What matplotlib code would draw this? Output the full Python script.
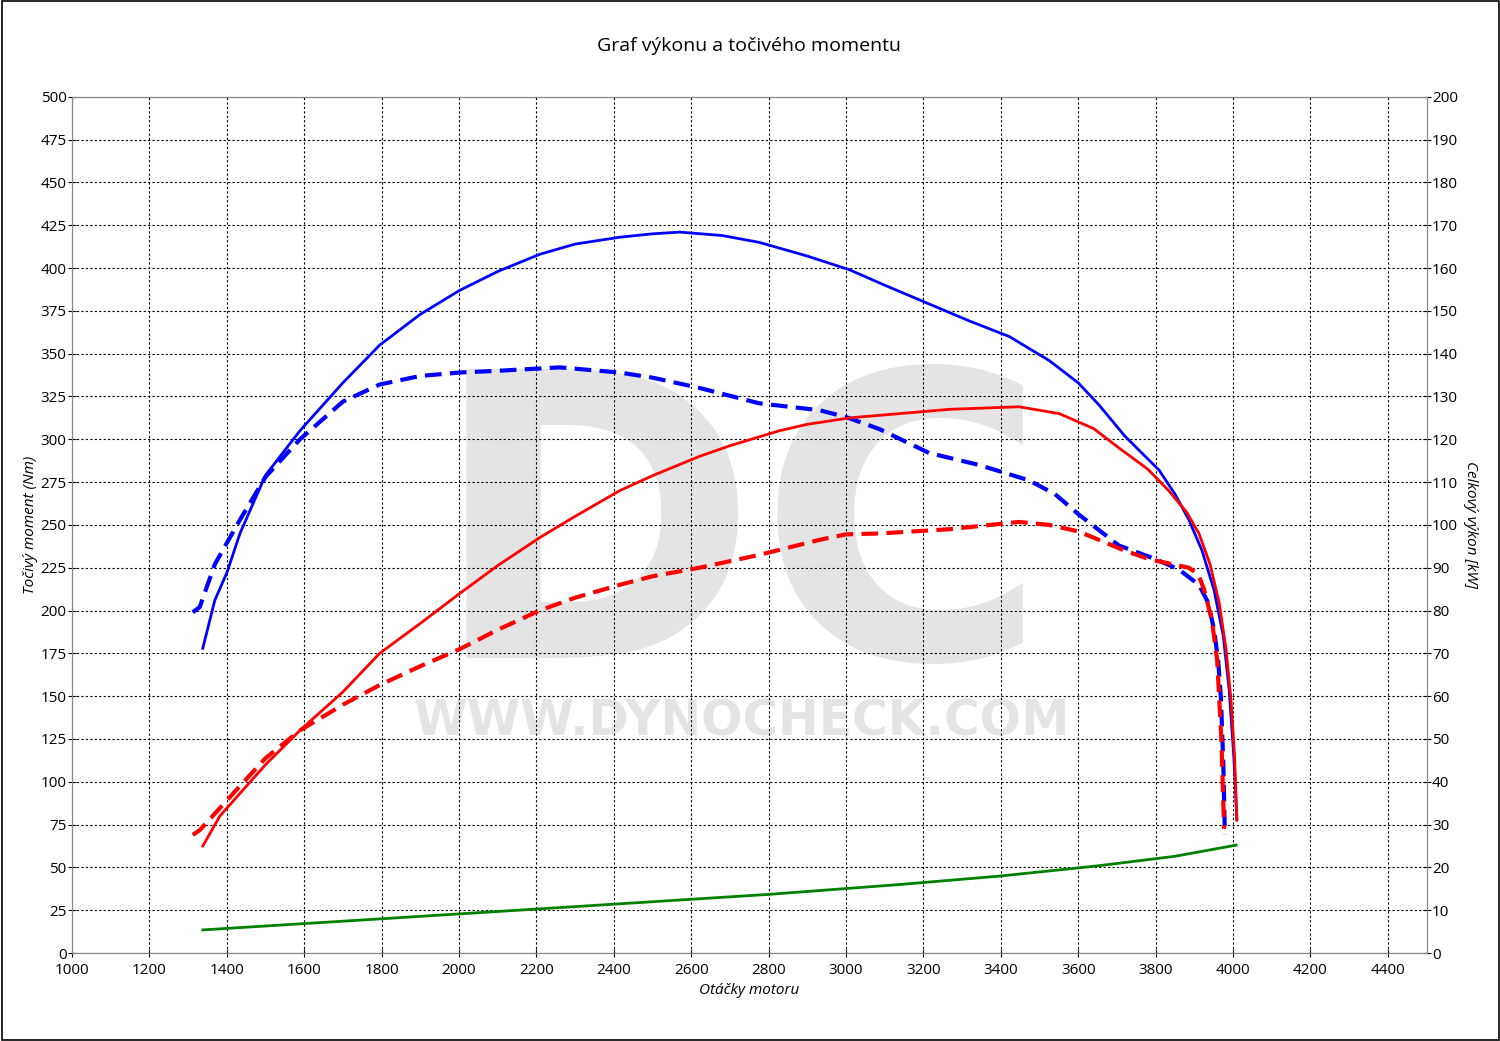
import numpy as np
import matplotlib
matplotlib.use('Agg')
import matplotlib.pyplot as plt
from matplotlib.patches import Rectangle

plt.rcParams['font.family'] = ['Open Sans', 'DejaVu Sans']

# naměřená data (otáčky, moment Nm / výkon kW)
rpm_tq_tuned = [1338, 1369, 1400, 1434, 1500, 1589, 1700, 1795, 1900, 2002, 2100, 2208, 2300, 2415, 2500, 2570,
                2680, 2776, 2900, 3009, 3100, 3215, 3320, 3422, 3525, 3600, 3654, 3720, 3809, 3850, 3886, 3920,
                3951, 3975, 3990, 4002, 4010]
tq_tuned = [178, 206, 222, 245, 279, 305, 333, 355, 373, 387, 398, 408, 414, 418, 420, 421,
            419, 415, 407, 399, 390, 379, 369, 360, 346, 333, 320, 302, 282, 268, 253, 235,
            212, 185, 154, 115, 78]

rpm_tq_stock = [1312, 1330, 1369, 1434, 1500, 1589, 1700, 1795, 1900, 2002, 2100, 2260, 2415, 2500, 2621, 2776,
                2931, 3000, 3086, 3215, 3344, 3473, 3540, 3602, 3705, 3800, 3860, 3912, 3935, 3951, 3962, 3969,
                3975, 3979]
tq_stock = [199, 202, 227, 253, 278, 300, 322, 332, 337, 339, 340, 342, 339, 336, 330, 321,
            317, 313, 306, 292, 285, 276, 268, 256, 238, 230, 224, 215, 205, 189, 170, 148,
            110, 69]

rpm_pw_tuned = [1338, 1382, 1500, 1589, 1700, 1795, 1900, 2002, 2100, 2208, 2300, 2415, 2500, 2621, 2700, 2828,
                2900, 3009, 3267, 3447, 3551, 3640, 3705, 3780, 3834, 3880, 3912, 3940, 3964, 3982, 3995, 4004,
                4010]
pw_tuned = [25, 32, 44, 52, 61, 70, 77, 84, 90.5, 97, 102, 108, 111.5, 116, 118.5, 122,
            123.5, 125, 127, 127.6, 126, 122.5, 118, 113, 108, 103, 98, 91, 82, 71, 59, 46,
            31]

rpm_pw_stock = [1312, 1330, 1434, 1500, 1589, 1700, 1795, 1900, 2002, 2100, 2208, 2300, 2415, 2500, 2621, 2776,
                2931, 3000, 3086, 3267, 3447, 3525, 3600, 3654, 3720, 3783, 3886, 3910, 3925, 3945, 3959, 3970,
                3977]
pw_stock = [27.6, 28.7, 39, 45.5, 52, 58, 62.6, 67, 71, 75.5, 80, 83, 86, 88, 90, 93,
            96.5, 97.8, 98, 99, 100.7, 100, 98.5, 96.5, 94, 92, 90, 88.5, 85, 78, 68.5, 50,
            29]

rpm_loss = [1338, 1800, 2363, 2800, 3138, 3400, 3654, 3850, 4008]
pw_loss = [5.4, 8, 11.2, 13.7, 16, 18, 20.4, 22.6, 25.2]

fig = plt.figure(figsize=(15, 10.41), dpi=100)
fig.patches.append(Rectangle((0.001, 0.001), 0.998, 0.998, transform=fig.transFigure,
                             fill=False, edgecolor='black', linewidth=1.2))
ax = fig.add_axes([0.048, 0.0845, 0.903, 0.8225])
ax2 = ax.twinx()

# vodoznak
ax.text(2725, 236, 'DC', fontsize=285, fontweight='bold', color='#e4e4e4',
        ha='center', va='center', zorder=0, family='Liberation Sans Narrow')
ax.text(2730, 135, 'WWW.DYNOCHECK.COM', fontsize=35, fontweight='bold', color='#e4e4e4',
        ha='center', va='center', zorder=0, family='DejaVu Sans')

ax.plot(rpm_tq_tuned, tq_tuned, color='blue', lw=2, zorder=3)
ax.plot(rpm_tq_stock, tq_stock, color='blue', lw=3, ls=(0, (4, 2)), zorder=3)
ax2.plot(rpm_pw_tuned, pw_tuned, color='red', lw=2, zorder=3)
ax2.plot(rpm_pw_stock, pw_stock, color='red', lw=3, ls=(0, (4, 2)), zorder=3)
ax2.plot(rpm_loss, pw_loss, color='green', lw=2, zorder=3)

ax.set_xlim(1000, 4500)
ax.set_ylim(0, 500)
ax2.set_ylim(0, 200)
ax.set_xticks(np.arange(1000, 4401, 200))
ax.set_yticks(np.arange(0, 501, 25))
ax2.set_yticks(np.arange(0, 201, 10))
ax.grid(True, color='black', ls=(0, (2, 2)), lw=0.8)
for a in (ax, ax2):
    a.tick_params(labelsize=11, length=6, direction='inout', pad=1)
    for s in a.spines.values():
        s.set_color('#888888')
ax.tick_params(axis='x', pad=4)

ax.set_title('Graf výkonu a točivého momentu', fontsize=14, pad=33)
ax.set_xlabel('Otáčky motoru', fontsize=11, style='italic', labelpad=4)
ax.set_ylabel('Točivý moment (Nm)', fontsize=11, style='italic', labelpad=2)
ax2.set_ylabel('Celkový výkon [kW]', fontsize=11, style='italic', rotation=-90, labelpad=14)

fig.savefig('out.png', dpi=100)
